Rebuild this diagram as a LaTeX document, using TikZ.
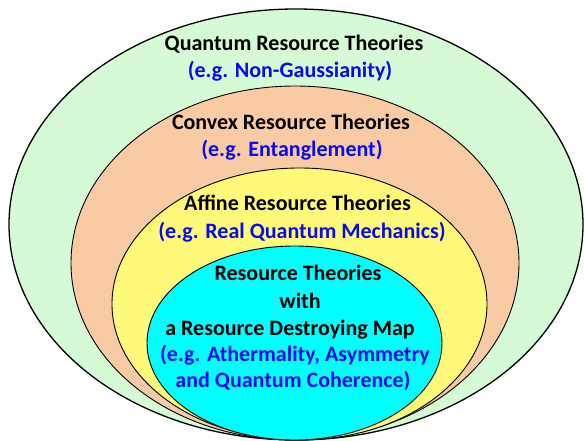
\documentclass[tikz,border=0pt]{standalone}
\usepackage{fontspec}
\setmainfont{Carlito}
\definecolor{greenfill}{RGB}{213,250,213}
\definecolor{orangefill}{RGB}{249,203,164}
\definecolor{yellowfill}{RGB}{255,249,122}
\definecolor{cyanfill}{RGB}{0,255,255}
\definecolor{textblue}{RGB}{10,10,240}
\begin{document}
\begin{tikzpicture}[x=1pt,y=-1pt,
  ring/.style={draw=black,line width=0.9pt},
  title/.style={font=\fontsize{22}{26}\selectfont\bfseries,text=black,inner sep=0pt,anchor=base},
  example/.style={font=\fontsize{22}{26}\selectfont\bfseries,text=textblue,inner sep=0pt,anchor=base}]
\useasboundingbox (0,0) rectangle (584,441);
\begin{scope}
\clip (0,0) rectangle (584,441);
\path[ring,fill=greenfill,line width=1.3pt] (296,224.5) ellipse [x radius=287, y radius=215.5];
\path[ring,fill=orangefill] (295,263) ellipse [x radius=224, y radius=177];
\path[ring,fill=yellowfill] (299.5,304) ellipse [x radius=187.5, y radius=136];
\path[ring,fill=cyanfill] (294.5,343) ellipse [x radius=147.5, y radius=97];
\end{scope}
\node[title]   (q1) at (294,51) {Quantum Resource Theories};
\node[example] (q2) at (290,78) {(e.g. Non-Gaussianity)};
\node[title]   (c1) at (291,130) {Convex Resource Theories};
\node[example] (c2) at (292,157) {(e.g. Entanglement)};
\node[title]   (a1) at (297.5,211) {Affine Resource Theories};
\node[example] (a2) at (302,238) {(e.g. Real Quantum Mechanics)};
\node[title]   (r1) at (298,280) {Resource Theories};
\node[title]   (r2) at (300,308) {with};
\node[title]   (r3) at (290,335) {a Resource Destroying Map};
\node[example] (r4) at (295,361) {(e.g. Athermality, Asymmetry};
\node[example] (r5) at (293,387) {and Quantum Coherence)};
\end{tikzpicture}
\end{document}
